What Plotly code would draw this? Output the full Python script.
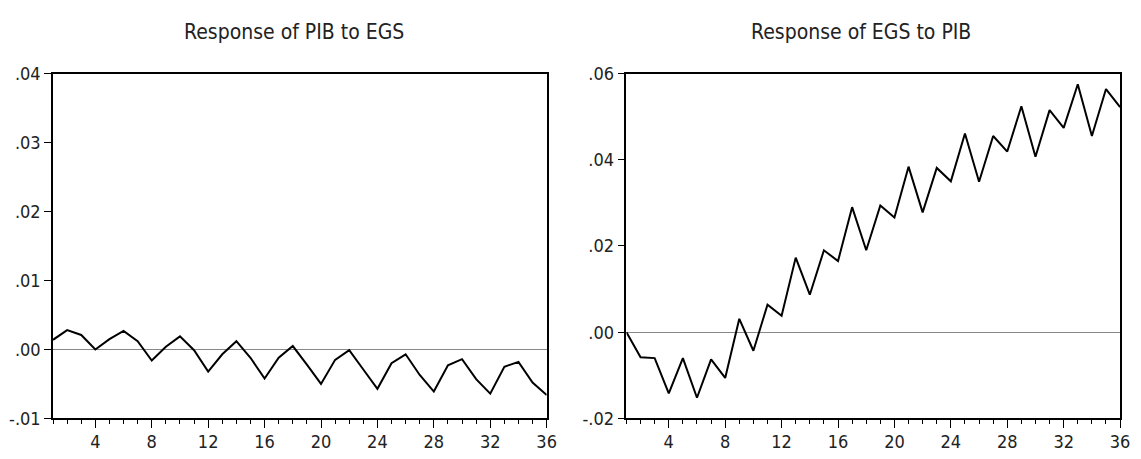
import plotly.graph_objects as go

periods = list(range(1, 37))

pib_to_egs = [0.0014, 0.0028, 0.0021, 0.0000, 0.0015, 0.0027, 0.0012, -0.0016, 0.0004, 0.0019,
              -0.0001, -0.0032, -0.0007, 0.0012, -0.0012, -0.0042, -0.0012, 0.0005, -0.0022, -0.0050,
              -0.0015, -0.0001, -0.0029, -0.0057, -0.0020, -0.0007, -0.0037, -0.0061, -0.0023, -0.0014,
              -0.0043, -0.0064, -0.0025, -0.0018, -0.0048, -0.0066]

egs_to_pib = [0.0000, -0.0058, -0.0060, -0.0142, -0.0060, -0.0152, -0.0063, -0.0106, 0.0031, -0.0043,
              0.0064, 0.0038, 0.0173, 0.0087, 0.0190, 0.0165, 0.0290, 0.0190, 0.0294, 0.0266,
              0.0384, 0.0278, 0.0381, 0.0350, 0.0461, 0.0349, 0.0455, 0.0419, 0.0524, 0.0407,
              0.0515, 0.0474, 0.0575, 0.0455, 0.0564, 0.0522]

titles = ["Response of PIB to EGS", "Response of EGS to PIB"]
x_tickvals = [4, 8, 12, 16, 20, 24, 28, 32, 36]
y1_tickvals = [-0.01, 0.00, 0.01, 0.02, 0.03, 0.04]
y1_ticktext = ["-.01", ".00", ".01", ".02", ".03", ".04"]
y2_tickvals = [-0.02, 0.00, 0.02, 0.04, 0.06]
y2_ticktext = ["-.02", ".00", ".02", ".04", ".06"]

FONT = "DejaVu Sans Condensed, Liberation Sans, Arial, sans-serif"
W, H = 1141, 459

fig = go.Figure()
fig.add_trace(go.Scatter(x=periods, y=pib_to_egs, mode="lines",
                         line=dict(color="black", width=2), xaxis="x", yaxis="y", showlegend=False))
fig.add_trace(go.Scatter(x=periods, y=egs_to_pib, mode="lines",
                         line=dict(color="black", width=2), xaxis="x2", yaxis="y2", showlegend=False))

def xax(domain, anchor):
    return dict(domain=domain, anchor=anchor, range=[1, 36], tickvals=x_tickvals,
                ticks="outside", ticklen=8, tickwidth=1, tickcolor="black",
                minor=dict(dtick=1, tick0=1, ticks="outside", ticklen=4, tickwidth=1, tickcolor="black"),
                showline=True, linecolor="black", linewidth=1.5, mirror=True,
                showgrid=False, zeroline=False, ticklabelstandoff=-2,
                tickfont=dict(family=FONT, size=18, color="#222"))

def yax(domain, anchor, rng, tv, tt):
    return dict(domain=domain, anchor=anchor, range=rng, tickvals=tv, ticktext=tt,
                ticks="outside", ticklen=7, tickwidth=1, tickcolor="black",
                showline=True, linecolor="black", linewidth=1.5, mirror=True,
                showgrid=False, zeroline=True, zerolinecolor="#888", zerolinewidth=1,
                tickfont=dict(family=FONT, size=18, color="#222"))

ydom = [(H - 427) / H, (H - 65.5) / H]
fig.update_layout(
    width=W, height=H,
    margin=dict(l=0, r=0, t=0, b=0),
    paper_bgcolor="white", plot_bgcolor="white",
    xaxis=xax([53.5 / W, 551.5 / W], "y"),
    yaxis=yax(ydom, "x", [-0.01, 0.04], y1_tickvals, y1_ticktext),
    xaxis2=xax([632 / W, 1130 / W], "y2"),
    yaxis2=yax(ydom, "x2", [-0.02, 0.06], y2_tickvals, y2_ticktext),
    annotations=[
        dict(text=titles[0], x=297 / W, y=1 - 22 / H, xref="paper", yref="paper",
             xanchor="center", yanchor="middle", showarrow=False,
             font=dict(family=FONT, size=21, color="#222")),
        dict(text=titles[1], x=868.5 / W, y=1 - 22 / H, xref="paper", yref="paper",
             xanchor="center", yanchor="middle", showarrow=False,
             font=dict(family=FONT, size=21, color="#222")),
    ],
)

fig.write_html("out.html",
               config={"displayModeBar": False},
               post_script="document.body.style.margin='0';document.body.style.overflow='hidden';")
